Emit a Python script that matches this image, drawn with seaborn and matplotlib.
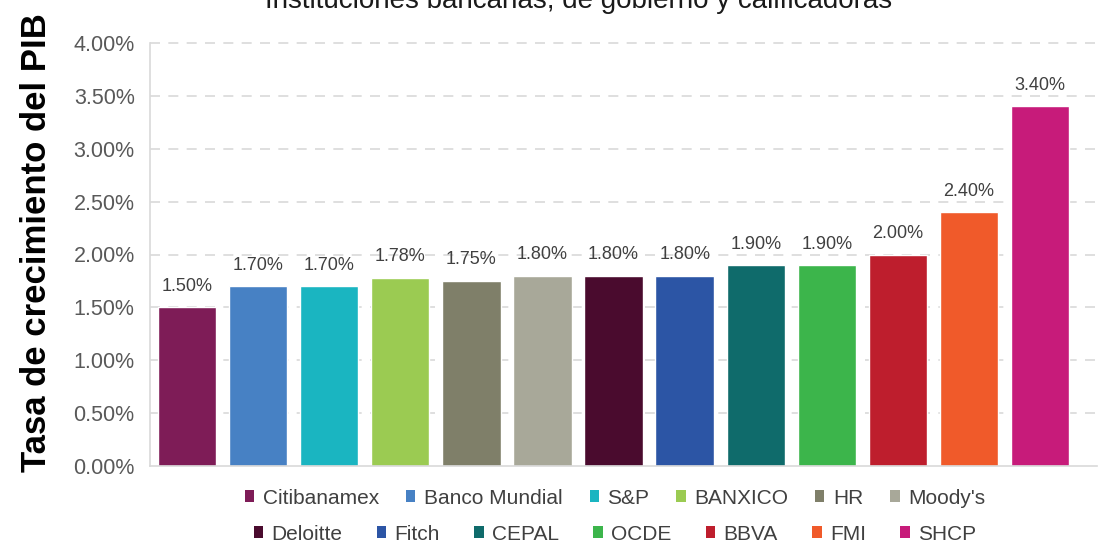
import matplotlib
matplotlib.use("Agg")
import matplotlib.pyplot as plt
from matplotlib.patches import Patch
import seaborn as sns
import pandas as pd

categories = ["Citibanamex", "Banco Mundial", "S&P", "BANXICO", "HR", "Moody's",
              "Deloitte", "Fitch", "CEPAL", "OCDE", "BBVA", "FMI", "SHCP"]
values = [1.50, 1.70, 1.70, 1.78, 1.75, 1.80, 1.80, 1.80, 1.90, 1.90, 2.00, 2.40, 3.40]
colors = ["#7E1C57", "#4781C4", "#1AB5C1", "#9BCB52", "#7F7F69", "#A8A899",
          "#4A0B2E", "#2C55A5", "#0F6B6B", "#3CB54B", "#BE1E2D", "#F05A2A", "#C71B7A"]
yticks = [0.0, 0.5, 1.0, 1.5, 2.0, 2.5, 3.0, 3.5, 4.0]
title = "Instituciones bancarias, de gobierno y calificadoras"
ylabel = "Tasa de crecimiento del PIB"

sns.set_theme(style="white")
plt.rcParams["font.family"] = ["Liberation Sans", "DejaVu Sans"]

df = pd.DataFrame({"inst": categories, "val": values})

fig = plt.figure(figsize=(10.99, 5.43), dpi=100)
ax = fig.add_axes([150/1099, 1-466/543, (1097-150)/1099, (466-43)/543])

sns.barplot(data=df, x="inst", y="val", hue="inst", palette=colors,
            order=categories, hue_order=categories, dodge=False,
            width=0.82, legend=False, ax=ax, saturation=1)

ax.set_xlim(-0.52, 12.8)
ax.set_ylim(0, 4.0)
ax.set_yticks(yticks)
ax.set_yticklabels([f"{v:.2f}%" for v in yticks], fontsize=15.5, color="#595959")
ax.tick_params(axis="y", length=0, pad=11)
ax.set_xticks([])
ax.set_xlabel("")
ax.set_ylabel("")
for v in yticks[1:]:
    ax.axhline(v, color="#d9d9d9", lw=1.2, ls=(0, (6, 5)), zorder=0, clip_on=False)
for s in ["top", "right"]:
    ax.spines[s].set_visible(False)
ax.spines["left"].set_color("#d9d9d9")
ax.spines["bottom"].set_color("#d9d9d9")
ax.spines["left"].set_linewidth(1.2)
ax.spines["bottom"].set_linewidth(1.2)

for i, v in enumerate(values):
    ax.annotate(f"{v:.2f}%", (i, v), xytext=(0, 9), textcoords="offset points",
                ha="center", va="bottom", fontsize=13, color="#404040")

fig.text(579/1099, 1-8/543, title, ha="center", va="baseline", fontsize=20, color="#1a1a1a")
fig.text(37/1099, 1-472/543, ylabel, ha="center", va="bottom", rotation=90,
         fontsize=25, fontweight="bold", color="#000000")

handles = [Patch(facecolor=c, edgecolor="none") for c in colors]
common = dict(frameon=False, fontsize=15, handlelength=0.45, handleheight=0.45,
              handletextpad=0.4, labelcolor="#404040", borderaxespad=0, borderpad=0)
leg1 = fig.legend(handles[:6], categories[:6], ncol=6, loc="center",
                  bbox_to_anchor=(615/1099, 1-498/543), columnspacing=1.3, **common)
leg2 = fig.legend(handles[6:], categories[6:], ncol=7, loc="center",
                  bbox_to_anchor=(615/1099, 1-534/543), columnspacing=1.65, **common)

fig.savefig("out.png", dpi=100)
